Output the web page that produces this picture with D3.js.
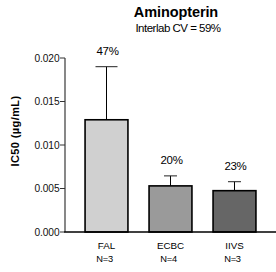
<!DOCTYPE html>
<html><head><meta charset="utf-8">
<script src="https://cdn.jsdelivr.net/npm/d3@7"></script>
<style>body{margin:0;background:#fff;} svg{display:block;font-family:"Liberation Sans",Arial,sans-serif;}</style>
</head><body>
<script>
const categories = ["FAL", "ECBC", "IIVS"];
const nLabels = ["N=3", "N=4", "N=3"];
const means = [0.0129, 0.0053, 0.00475];
const sds = [0.0061, 0.00115, 0.00103];
const cvLabels = ["47%", "20%", "23%"];
const yTicks = [0.000, 0.005, 0.010, 0.015, 0.020];
const title = "Aminopterin";
const subtitle = "Interlab CV = 59%";
const yTitle = "IC50 (\u00b5g/mL)";

const fills = ["#d0d0d0", "#9a9a9a", "#666666"];
const capW = [22, 13, 13];

const W = 276, H = 272;
const svg = d3.select("body").append("svg").attr("width", W).attr("height", H);

const y = d3.scaleLinear().domain([0, 0.020]).range([232, 58]);
const x = d3.scaleBand().domain(categories).range([65, 276]).paddingInner(0.33).paddingOuter(0.3135);

// bars
svg.selectAll("rect.bar").data(categories).enter().append("rect")
  .attr("x", d => x(d)).attr("width", x.bandwidth())
  .attr("y", (d, i) => y(means[i])).attr("height", (d, i) => y(0) - y(means[i]))
  .attr("fill", (d, i) => fills[i]).attr("stroke", "#000").attr("stroke-width", 1.6);

// error bars
categories.forEach((c, i) => {
  const cx = x(c) + x.bandwidth() / 2;
  const top = y(means[i] + sds[i]);
  svg.append("line").attr("x1", cx).attr("x2", cx).attr("y1", y(means[i])).attr("y2", top)
    .attr("stroke", "#000").attr("stroke-width", 1);
  svg.append("line").attr("x1", cx - capW[i] / 2).attr("x2", cx + capW[i] / 2).attr("y1", top).attr("y2", top)
    .attr("stroke", "#222").attr("stroke-width", 1);
  svg.append("text").attr("x", cx + 1).attr("y", top - 12).attr("text-anchor", "middle")
    .attr("font-size", 11.5).attr("letter-spacing", -0.3).text(cvLabels[i]);
  svg.append("text").attr("x", cx).attr("y", 249).attr("text-anchor", "middle")
    .attr("font-size", 9.8).text(c);
  svg.append("text").attr("x", cx - 2).attr("y", 262).attr("text-anchor", "middle")
    .attr("font-size", 9.3).attr("letter-spacing", -0.2).text(nLabels[i]);
});

// axes lines
svg.append("line").attr("x1", 65).attr("x2", 65).attr("y1", y(0.020)).attr("y2", y(0))
  .attr("stroke", "#555").attr("stroke-width", 1.4);
svg.append("line").attr("x1", 64).attr("x2", 276).attr("y1", y(0)).attr("y2", y(0))
  .attr("stroke", "#000").attr("stroke-width", 1.3);

// y ticks
const yt = svg.append("g");
yTicks.forEach(t => {
  yt.append("line").attr("x1", 60).attr("x2", 65).attr("y1", y(t)).attr("y2", y(t))
    .attr("stroke", "#333").attr("stroke-width", 1);
  yt.append("text").attr("x", 59.5).attr("y", y(t)).attr("dy", "0.35em").attr("text-anchor", "end")
    .attr("font-size", 10.2).attr("letter-spacing", -0.1).attr("fill", "#111").text(d3.format(".3f")(t));
});

// titles
svg.append("text").attr("x", 176).attr("y", 16.5).attr("text-anchor", "middle")
  .attr("font-size", 14.5).attr("font-weight", "bold").attr("letter-spacing", -0.1).text(title);
svg.append("text").attr("x", 178).attr("y", 31.5).attr("text-anchor", "middle")
  .attr("font-size", 11.5).attr("letter-spacing", -0.5).text(subtitle);
svg.append("text").attr("transform", "translate(18.5,131) rotate(-90)").attr("text-anchor", "middle")
  .attr("font-size", 11).attr("font-weight", "bold").attr("letter-spacing", 0.4).text(yTitle);
</script>
</body></html>
